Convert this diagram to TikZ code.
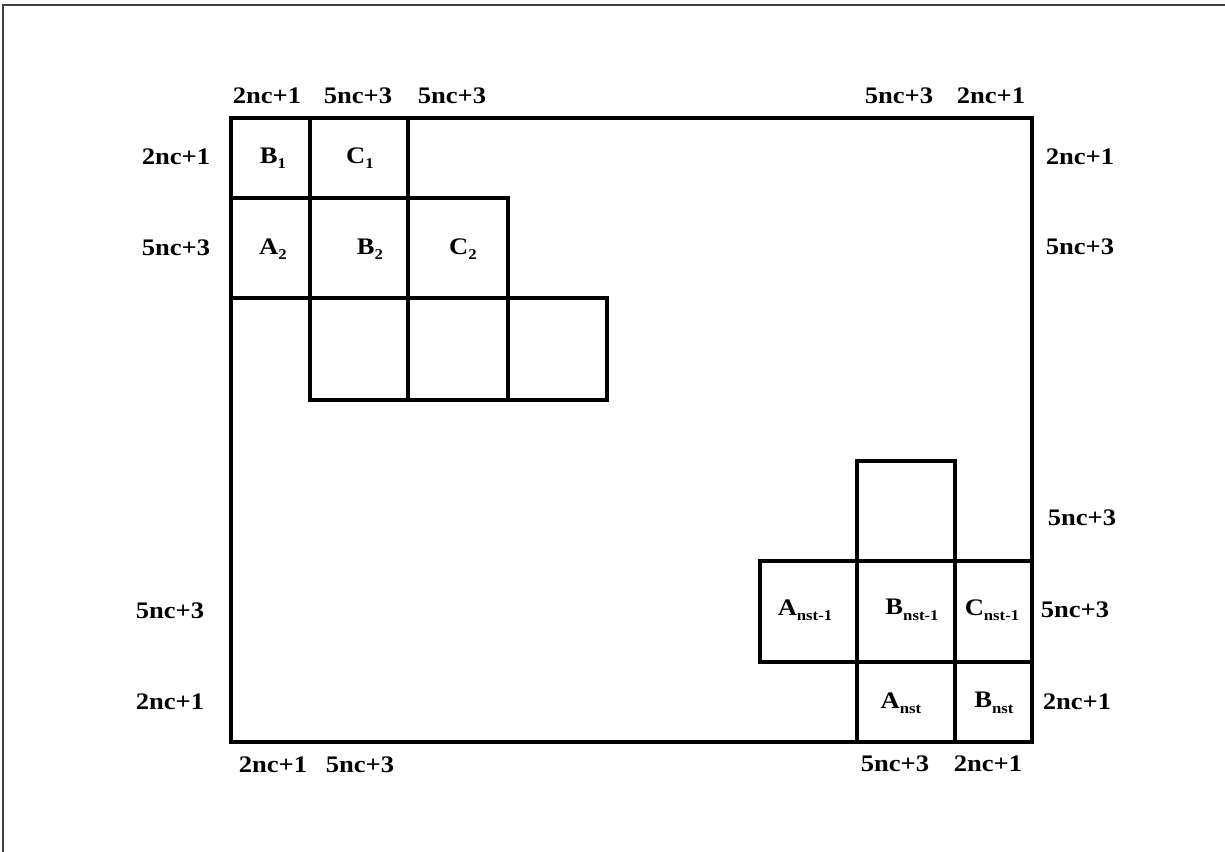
\documentclass[tikz,border=0pt]{standalone}
\usepackage{fontspec}
\setmainfont{Liberation Serif}[FakeStretch=1.12]
\newcommand\dimtextstyle{\fontsize{13.5}{16}\selectfont\bfseries}
\newcommand\celltextstyle{\fontsize{13.5}{15}\selectfont\bfseries}
\newcommand\blksub[1]{\raisebox{-0.5ex}{\fontsize{8.5}{9}\selectfont #1}}
\tikzset{
  blk/.style={line width=2.8pt},
  frameline/.style={line width=0.8pt, black!75},
  dimlabel/.style={font=\dimtextstyle, inner sep=0pt},
  celllabel/.style={font=\celltextstyle, inner sep=0pt},
}
\newcommand\cell[4]{
  \draw[blk] (#1, #2) rectangle (#3, #4) ;
}
\begin{document}
\begin{tikzpicture}[x=0.02cm, y=-0.02cm]
    \useasboundingbox (0, 0) rectangle (1225, 852) ;
    % outer frame, only top and left
    \draw[frameline] (1225, 5) -- (3, 5) -- (3, 852) ;
    % the whole matrix
    \draw[blk] (231, 118) rectangle (1032, 742) ;
    % first block rows
    \cell{231}{118}{310}{198}
    \cell{310}{118}{408}{198}
    \cell{231}{198}{310}{298}
    \cell{310}{198}{408}{298}
    \cell{408}{198}{508}{298}
    \cell{310}{298}{408}{400}
    \cell{408}{298}{508}{400}
    \cell{508}{298}{607}{400}
    % last block rows
    \cell{857}{461}{955}{561}
    \cell{760}{561}{857}{662}
    \cell{857}{561}{955}{662}
    \cell{955}{561}{1032}{662}
    \cell{857}{662}{955}{742}
    \cell{955}{662}{1032}{742}
    % block names
    \node[celllabel] (b1) at (273, 158) {B\blksub{1}} ;
    \node[celllabel] (c1) at (360, 158) {C\blksub{1}} ;
    \node[celllabel] (a2) at (273, 249) {A\blksub{2}} ;
    \node[celllabel] (b2) at (370, 249) {B\blksub{2}} ;
    \node[celllabel] (c2) at (463, 249) {C\blksub{2}} ;
    \node[celllabel] (anm) at (805, 610) {A\blksub{nst-1}} ;
    \node[celllabel] (bnm) at (912, 610) {B\blksub{nst-1}} ;
    \node[celllabel] (cnm) at (992, 610) {C\blksub{nst-1}} ;
    \node[celllabel] (an) at (901, 703) {A\blksub{nst}} ;
    \node[celllabel] (bn) at (994, 703) {B\blksub{nst}} ;
    % sizes above
    \node[dimlabel] (top1) at (267, 96) {2nc+1} ;
    \node[dimlabel] (top2) at (358, 96) {5nc+3} ;
    \node[dimlabel] (top3) at (452, 96) {5nc+3} ;
    \node[dimlabel] (top4) at (899, 96) {5nc+3} ;
    \node[dimlabel] (top5) at (991, 96) {2nc+1} ;
    % sizes on the left
    \node[dimlabel] (left1) at (176, 157) {2nc+1} ;
    \node[dimlabel] (left2) at (176, 248) {5nc+3} ;
    \node[dimlabel] (left3) at (170, 611) {5nc+3} ;
    \node[dimlabel] (left4) at (170, 702) {2nc+1} ;
    % sizes on the right
    \node[dimlabel] (right1) at (1080, 157) {2nc+1} ;
    \node[dimlabel] (right2) at (1080, 247) {5nc+3} ;
    \node[dimlabel] (right3) at (1082, 518) {5nc+3} ;
    \node[dimlabel] (right4) at (1075, 610) {5nc+3} ;
    \node[dimlabel] (right5) at (1077, 702) {2nc+1} ;
    % sizes below
    \node[dimlabel] (bot1) at (273, 765) {2nc+1} ;
    \node[dimlabel] (bot2) at (360, 765) {5nc+3} ;
    \node[dimlabel] (bot3) at (895, 764) {5nc+3} ;
    \node[dimlabel] (bot4) at (988, 764) {2nc+1} ;
  \end{tikzpicture}
\end{document}
